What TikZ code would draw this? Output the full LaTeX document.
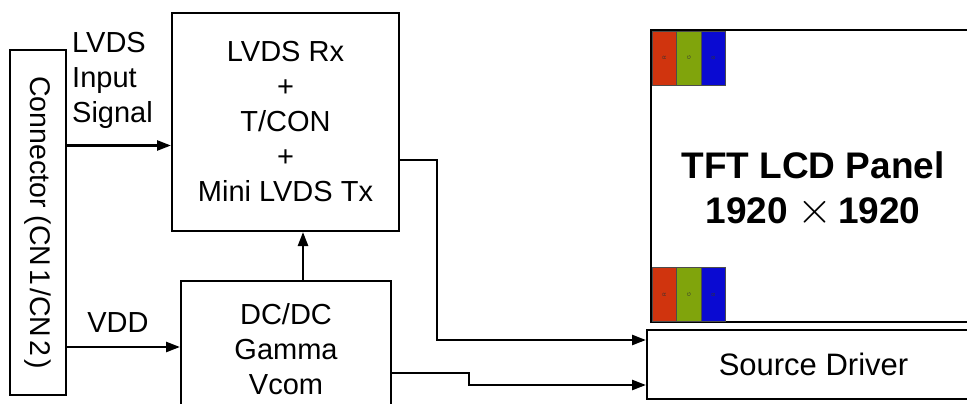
\documentclass[tikz,border=0pt]{standalone}
\usepackage{fontspec}
\setmainfont{Liberation Sans}
\usetikzlibrary{arrows.meta}
\begin{document}
\begin{tikzpicture}[x=1pt,y=-1pt,
  box/.style={draw,line width=2pt,inner sep=0pt,align=center},
  txt/.style={font=\fontsize{29}{35}\selectfont},
  tip/.style={-{Triangle[length=14pt,width=10pt]}},
  arr/.style={line width=2.5pt,tip},
  wire/.style={line width=2.5pt},
  cell/.style={draw=black!70,line width=0.8pt,minimum width=24.5pt,minimum height=54pt,inner sep=0pt,font=\fontsize{5}{5}\selectfont,text=black!80}]
\clip (0,0) rectangle (967,404);
\fill[white] (0,0) rectangle (967,404);
% boxes
\node[box,minimum width=56pt,minimum height=345pt] (conn) at (38,222.5)
  {\rotatebox{-90}{\fontsize{28.5}{34}\selectfont Connector (CN\kern3pt1\kern3pt/CN\kern3pt2\kern3pt)}};
\node[box,txt,minimum width=227pt,minimum height=218pt] (lvds) at (285.5,122)
  {LVDS Rx\\+\\T/CON\\+\\Mini LVDS Tx};
\node[box,minimum width=210pt,minimum height=132pt] (dcdc) at (286,347) {};
\node[txt,align=center] (dctext) at (286,349) {DC/DC\\Gamma\\Vcom};
\node[box,minimum width=329pt,minimum height=292pt] (panel) at (815.5,176) {};
\node[align=center,font=\fontsize{37}{45}\selectfont\bfseries] (ptext) at (813,189)
  {TFT LCD Panel\\1920\kern9pt{\fontsize{10}{10}\selectfont\scalebox{4.5}{$\times$}}\kern6pt1920};
\node[box,font=\fontsize{31}{35}\selectfont,minimum width=333pt,minimum height=69pt] (sd) at (813.5,364.5) {Source Driver};
% RGB cells
\node[cell,fill={rgb,255:red,208;green,52;blue,14}] (r1) at (664.5,58) {\rotatebox{90}{R}};
\node[cell,fill={rgb,255:red,128;green,164;blue,12}] (g1) at (689,58) {\rotatebox{90}{G}};
\node[cell,fill={rgb,255:red,10;green,10;blue,210}] (b1) at (713.5,58) {\rotatebox{90}{B}};
\node[cell,fill={rgb,255:red,208;green,52;blue,14}] (r2) at (664.5,294.5) {\rotatebox{90}{R}};
\node[cell,fill={rgb,255:red,128;green,164;blue,12}] (g2) at (689,294.5) {\rotatebox{90}{G}};
\node[cell,fill={rgb,255:red,10;green,10;blue,210}] (b2) at (713.5,294.5) {\rotatebox{90}{B}};
% labels
\node[txt,align=left,anchor=west,inner sep=0pt] (lvdslbl) at (72,80) {LVDS\\Input\\Signal};
\node[txt,inner sep=0pt] (vddlbl) at (118,323) {VDD};
% connectors
\draw[arr] (conn.east |- 0,145.5) -- (lvds.west |- 0,145.5);
\draw[arr] (conn.east |- 0,347) -- (dcdc.west |- 0,347);
\draw[arr] (dcdc.north -| 303,0) -- (lvds.south -| 303,0);
\coordinate (c1) at (437,160);
\coordinate (c2) at (437,340);
\draw[wire,tip] (lvds.east |- c1) -- (c1) -- (c2) -- (sd.west |- c2);
\coordinate (d1) at (469,373);
\coordinate (d2) at (469,385);
\draw[wire,tip] (dcdc.east |- d1) -- (d1) -- (d2) -- (sd.west |- d2);
\end{tikzpicture}
\end{document}
